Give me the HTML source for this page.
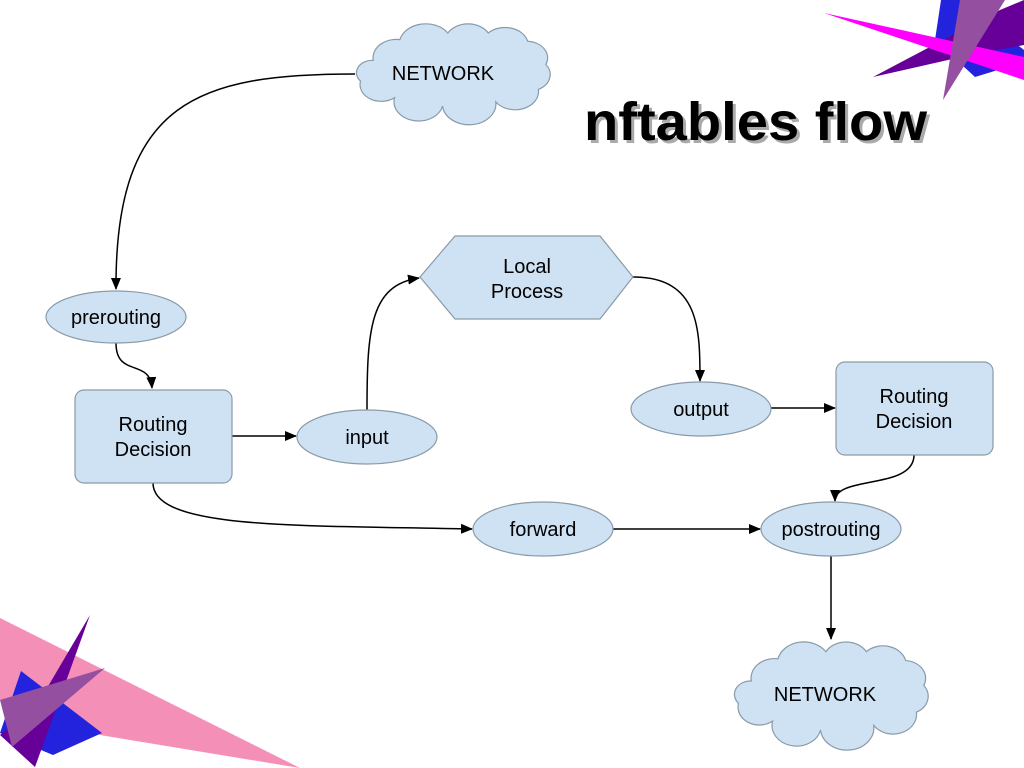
<!DOCTYPE html>
<html><head><meta charset="utf-8"><style>
html,body{margin:0;padding:0;background:#fff;}
svg{display:block}
text{font-family:"Liberation Sans",sans-serif;}
</style></head><body>
<svg width="1024" height="768" viewBox="0 0 1024 768" xmlns="http://www.w3.org/2000/svg">
<defs>
<marker id="a" markerWidth="12" markerHeight="10" refX="11" refY="5" orient="auto" markerUnits="userSpaceOnUse">
<path d="M0,0 L12,5 L0,10 Z" fill="#000"/></marker>
<path id="cloud" d="M20,45 A22,22 0 0 1 45,20 A25,25 0 0 1 90,12 A22,22 0 0 1 128,12 A22,22 0 0 1 165,22 A20,20 0 0 1 182,50 A20,20 0 0 1 175,80 A22,22 0 0 1 135,95 A25,25 0 0 1 85,100 A22,22 0 0 1 40,90 A20,20 0 0 1 8,70 A15,15 0 0 1 20,45 Z" fill="#cfe2f3" stroke="#8a9aa8" stroke-width="1.2" vector-effect="non-scaling-stroke"/>
</defs>
<polygon points="941,0,960,0,1024,50,1024,62,975,77,935,40" fill="#2323dd"/>
<polygon points="873,77,1000,10,1024,0,1024,45,970,55" fill="#660099"/>
<polygon points="824,13,1024,57,1024,80" fill="#ff00ff"/>
<polygon points="960,0,1005,0,943,100" fill="#954fa0"/>
<polygon points="0,618,300,768,100,735,0,700" fill="#f48fb8"/>
<polygon points="21,671,102,733,53,755,0,733" fill="#2323dd"/>
<polygon points="90,615,35,767,0,735,40,700" fill="#660099"/>
<polygon points="105,668,0,700,12,747" fill="#954fa0"/>
<text x="587" y="143" font-size="54" font-weight="bold" fill="#aaa" textLength="343" lengthAdjust="spacingAndGlyphs">nftables flow</text>
<text x="584" y="140" font-size="54" font-weight="bold" fill="#000" textLength="343" lengthAdjust="spacingAndGlyphs">nftables flow</text>
<g fill="none" stroke="#000" stroke-width="1.5">
<path d="M355,74 C200,74 115,100 116,289" marker-end="url(#a)"/>
<path d="M116,343 C116,378 150,358 152,388" marker-end="url(#a)"/>
<path d="M232,436 L296,436" marker-end="url(#a)"/>
<path d="M367,410 C367,330 370,285 419,278" marker-end="url(#a)"/>
<path d="M633,277 C700,277 700,330 700,381" marker-end="url(#a)"/>
<path d="M771,408 L835,408" marker-end="url(#a)"/>
<path d="M914,455 C914,490 835,475 835,501" marker-end="url(#a)"/>
<path d="M153,483 C153,530 300,525 472,529" marker-end="url(#a)"/>
<path d="M613,529 L760,529" marker-end="url(#a)"/>
<path d="M831,556 L831,639" marker-end="url(#a)"/>
</g>
<g fill="#cfe2f3" stroke="#8a9aa8" stroke-width="1.2">
<use href="#cloud" transform="translate(352,23) scale(1.065,0.83)"/>
<use href="#cloud" transform="translate(730,641) scale(1.065,0.89)"/>
<ellipse cx="116" cy="317" rx="70" ry="26"/>
<rect x="75" y="390" width="157" height="93" rx="9"/>
<ellipse cx="367" cy="437" rx="70" ry="27"/>
<polygon points="420,277,455,236,600,236,633,277,600,319,455,319"/>
<ellipse cx="701" cy="409" rx="70" ry="27"/>
<rect x="836" y="362" width="157" height="93" rx="9"/>
<ellipse cx="543" cy="529" rx="70" ry="27"/>
<ellipse cx="831" cy="529" rx="70" ry="27"/>
</g>
<g font-size="20" fill="#000" text-anchor="middle">
<text x="443" y="80">NETWORK</text>
<text x="825" y="701">NETWORK</text>
<text x="116" y="324">prerouting</text>
<text x="153" y="431">Routing</text>
<text x="153" y="456">Decision</text>
<text x="367" y="444">input</text>
<text x="527" y="273">Local</text>
<text x="527" y="298">Process</text>
<text x="701" y="416">output</text>
<text x="914" y="403">Routing</text>
<text x="914" y="428">Decision</text>
<text x="543" y="536">forward</text>
<text x="831" y="536">postrouting</text>
</g>
</svg>
</body></html>
